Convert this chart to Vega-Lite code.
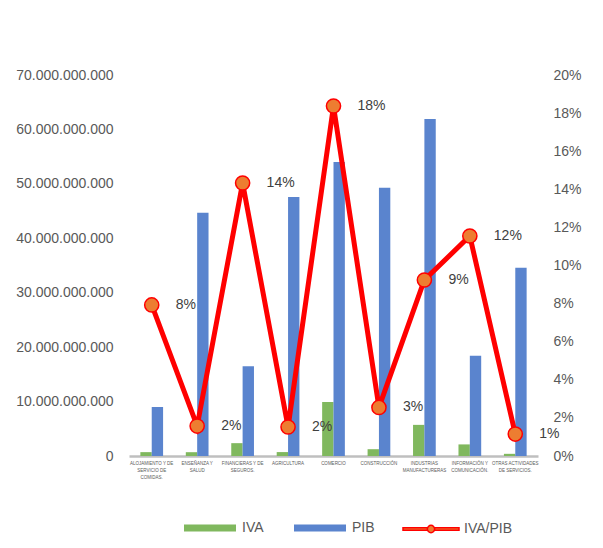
{
  "$schema": "https://vega.github.io/schema/vega-lite/v6.json",
  "width": 409,
  "height": 381,
  "autosize": {"type": "none"},
  "padding": {"left": 129, "top": 75, "right": 65, "bottom": 92},
  "background": "#FFFFFF",
  "data": {
    "values": [
      {"sector": "ALOJAMIENTO Y DE|SERVICIO DE|COMIDAS.", "IVA": 710000000, "PIB": 9000000000, "ratio": 0.0793},
      {"sector": "ENSEÑANZA Y|SALUD", "IVA": 700000000, "PIB": 44700000000, "ratio": 0.0157},
      {"sector": "FINANCIERAS Y DE|SEGUROS.", "IVA": 2360000000, "PIB": 16500000000, "ratio": 0.1433},
      {"sector": "AGRICULTURA", "IVA": 720000000, "PIB": 47600000000, "ratio": 0.0152},
      {"sector": "COMERCIO", "IVA": 9920000000, "PIB": 54000000000, "ratio": 0.1837},
      {"sector": "CONSTRUCCIÓN", "IVA": 1250000000, "PIB": 49300000000, "ratio": 0.0255},
      {"sector": "INDUSTRIAS|MANUFACTURERAS", "IVA": 5720000000, "PIB": 61900000000, "ratio": 0.0924},
      {"sector": "INFORMACIÓN Y|COMUNICACIÓN.", "IVA": 2130000000, "PIB": 18400000000, "ratio": 0.1155},
      {"sector": "OTRAS ACTIVIDADES|DE SERVICIOS.", "IVA": 400000000, "PIB": 34600000000, "ratio": 0.0115}
    ]
  },
  "encoding": {
    "x": {
      "field": "sector",
      "type": "nominal",
      "sort": null,
      "scale": {"paddingInner": 0.5, "paddingOuter": 0.25},
      "axis": {
        "title": null,
        "labelExpr": "split(datum.label, '|')",
        "labelAngle": 0,
        "labelFontSize": 4.5,
        "labelLineHeight": 7,
        "labelColor": "#595959",
        "labelBaseline": "top",
        "labelPadding": 4,
        "labelLimit": 0,
        "ticks": false,
        "domainColor": "#BFBFBF",
        "domainWidth": 2.5,
        "grid": false
      }
    }
  },
  "layer": [
    {
      "transform": [{"fold": ["IVA", "PIB"], "as": ["serie", "valor"]}],
      "mark": {"type": "bar"},
      "encoding": {
        "xOffset": {"field": "serie", "type": "nominal"},
        "y": {
          "field": "valor",
          "type": "quantitative",
          "scale": {"domain": [0, 70000000000], "nice": false},
          "axis": {
            "orient": "left",
            "title": null,
            "values": [0, 10000000000, 20000000000, 30000000000, 40000000000, 50000000000, 60000000000, 70000000000],
            "format": ",.0f",
            "labelFontSize": 14,
            "labelColor": "#595959",
            "labelPadding": 16,
            "domain": false,
            "ticks": false,
            "grid": false
          }
        },
        "color": {
          "field": "serie",
          "type": "nominal",
          "scale": {"domain": ["IVA", "PIB"], "range": ["#80B85E", "#5A84CE"]},
          "legend": {
            "orient": "none",
            "legendX": 55,
            "legendY": 427,
            "direction": "horizontal",
            "title": null,
            "symbolType": "M-1,-0.13H1V0.13H-1Z",
            "symbolSize": 2704,
            "symbolStrokeWidth": 0,
            "columnPadding": 30,
            "labelOffset": 6,
            "labelFontSize": 14,
            "labelColor": "#595959",
            "padding": 0
          }
        }
      }
    },
    {
      "encoding": {
        "y": {
          "field": "ratio",
          "type": "quantitative",
          "scale": {"domain": [0, 0.2], "nice": false},
          "axis": {
            "orient": "right",
            "title": null,
            "values": [0, 0.02, 0.04, 0.06, 0.08, 0.1, 0.12, 0.14, 0.16, 0.18, 0.2],
            "format": ".0%",
            "labelFontSize": 14,
            "labelColor": "#595959",
            "labelPadding": 15,
            "domain": false,
            "ticks": false,
            "grid": false
          }
        }
      },
      "layer": [
        {
          "mark": {"type": "line", "strokeWidth": 5},
          "encoding": {
            "stroke": {
              "datum": "IVA/PIB",
              "scale": {"range": ["#FF0000"]},
              "legend": {
                "orient": "none",
                "legendX": 273,
                "legendY": 425,
                "title": null,
                "symbolType": "M-1,-0.043H-0.13V0.043H-1ZM0.13,-0.043H1V0.043H0.13ZM0.13,0A0.13,0.13,0,1,1,-0.13,0A0.13,0.13,0,1,1,0.13,0Z",
                "symbolSize": 3136,
                "symbolFillColor": "#ED7D31",
                "symbolStrokeColor": "#FF0000",
                "symbolStrokeWidth": 1.5,
                "labelOffset": 4,
                "labelFontSize": 14,
                "labelColor": "#595959",
                "padding": 0,
                "encode": {
                  "symbols": {
                    "update": {
                      "fill": {"value": "#ED7D31"},
                      "stroke": {"value": "#FF0000"},
                      "strokeWidth": {"value": 1.5},
                      "opacity": {"value": 1}
                    }
                  }
                }
              }
            }
          }
        },
        {
          "mark": {
            "type": "point",
            "shape": "circle",
            "filled": true,
            "fill": "#ED7D31",
            "stroke": "#FF0000",
            "strokeWidth": 1.5,
            "size": 200,
            "opacity": 1
          }
        },
        {
          "mark": {
            "type": "text",
            "align": "left",
            "baseline": "middle",
            "dx": 24,
            "fontSize": 14,
            "color": "#404040"
          },
          "encoding": {
            "text": {"field": "ratio", "type": "quantitative", "format": ".0%"}
          }
        }
      ]
    }
  ],
  "resolve": {"scale": {"y": "independent"}},
  "config": {
    "font": "Liberation Sans",
    "view": {"stroke": null},
    "locale": {
      "number": {"decimal": ",", "thousands": ".", "grouping": [3], "currency": ["", ""]}
    }
  }
}
